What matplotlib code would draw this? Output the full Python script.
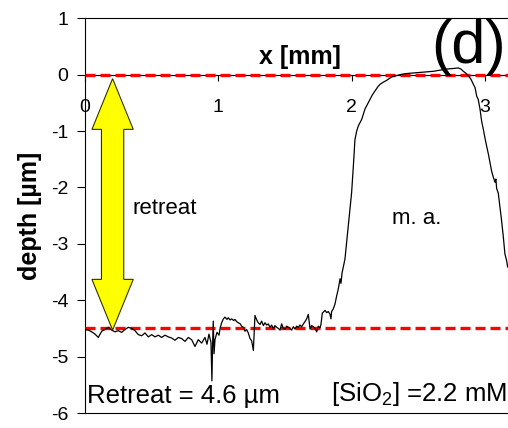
import numpy as np
import matplotlib
matplotlib.use('Agg')
import matplotlib.pyplot as plt
from matplotlib.patches import Polygon

plt.rcParams['font.family'] = ['Liberation Sans', 'DejaVu Sans']
plt.rcParams['mathtext.default'] = 'regular'
plt.rcParams['axes.unicode_minus'] = False

# profilometer trace across the exposed surface
pos_mm = [0.000, 0.025, 0.050, 0.075, 0.100, 0.125, 0.150, 0.175, 0.200, 0.225,
          0.250, 0.275, 0.300, 0.325, 0.350, 0.375, 0.400, 0.425, 0.450, 0.475,
          0.500, 0.525, 0.550, 0.575, 0.600, 0.625, 0.650, 0.675, 0.700, 0.725,
          0.750, 0.775, 0.800, 0.825, 0.850, 0.875, 0.900, 0.915, 0.930, 0.945,
          0.952, 0.957, 0.962, 0.968, 0.975, 0.990, 1.005, 1.015, 1.025, 1.038,
          1.050, 1.065, 1.075, 1.088, 1.100, 1.115, 1.125, 1.138, 1.150, 1.165,
          1.175, 1.188, 1.200, 1.212, 1.225, 1.238, 1.250, 1.263, 1.270, 1.275,
          1.288, 1.300, 1.313, 1.325, 1.338, 1.350, 1.363, 1.375, 1.388, 1.400,
          1.413, 1.425, 1.438, 1.450, 1.463, 1.475, 1.488, 1.500, 1.513, 1.525,
          1.538, 1.550, 1.563, 1.575, 1.588, 1.600, 1.613, 1.625, 1.638, 1.650,
          1.663, 1.675, 1.688, 1.700, 1.713, 1.725, 1.738, 1.750, 1.763, 1.770,
          1.780, 1.800, 1.813, 1.825, 1.838, 1.845, 1.850, 1.863, 1.875, 1.888,
          1.900, 1.913, 1.920, 1.928, 1.950, 1.975, 2.000, 2.013, 2.025, 2.038,
          2.050, 2.063, 2.076, 2.100, 2.120, 2.138, 2.155, 2.175, 2.195, 2.213,
          2.240, 2.263, 2.300, 2.363, 2.410, 2.463, 2.513, 2.563, 2.613, 2.663,
          2.713, 2.763, 2.800, 2.820, 2.838, 2.860, 2.876, 2.895, 2.913, 2.926,
          2.938, 2.950, 2.963, 2.975, 2.988, 3.000, 3.013, 3.026, 3.038, 3.050,
          3.063, 3.076, 3.082, 3.088, 3.100, 3.113, 3.125, 3.138, 3.150, 3.163,
          3.170]
depth_um = [-4.52, -4.53, -4.56, -4.60, -4.66, -4.55, -4.52, -4.48, -4.53, -4.56,
            -4.54, -4.57, -4.52, -4.48, -4.50, -4.54, -4.61, -4.63, -4.58, -4.65,
            -4.61, -4.65, -4.62, -4.66, -4.62, -4.65, -4.67, -4.71, -4.66, -4.68,
            -4.73, -4.66, -4.70, -4.82, -4.70, -4.76, -4.66, -4.78, -4.60, -4.75,
            -5.43, -4.80, -4.37, -4.95, -4.70, -4.57, -4.62, -4.48, -4.40, -4.33,
            -4.30, -4.34, -4.31, -4.35, -4.33, -4.36, -4.34, -4.38, -4.40, -4.42,
            -4.46, -4.48, -4.55, -4.52, -4.58, -4.68, -4.72, -4.89, -4.55, -4.27,
            -4.35, -4.40, -4.43, -4.37, -4.45, -4.40, -4.44, -4.42, -4.48, -4.44,
            -4.51, -4.45, -4.48, -4.50, -4.53, -4.42, -4.50, -4.51, -4.46, -4.48,
            -4.50, -4.53, -4.47, -4.51, -4.46, -4.48, -4.44, -4.47, -4.42, -4.38,
            -4.33, -4.25, -4.51, -4.45, -4.47, -4.50, -4.56, -4.46, -4.49, -4.43,
            -4.23, -4.18, -4.22, -4.20, -4.25, -4.33, -4.20, -4.15, -4.07, -3.92,
            -3.80, -3.62, -3.70, -3.52, -3.27, -2.68, -2.09, -1.62, -1.15, -1.00,
            -0.91, -0.85, -0.79, -0.61, -0.52, -0.44, -0.36, -0.29, -0.22, -0.17,
            -0.13, -0.10, -0.04, 0.00, 0.02, 0.03, 0.04, 0.05, 0.06, 0.08,
            0.10, 0.11, 0.12, 0.10, 0.06, 0.02, -0.02, -0.08, -0.17, -0.23,
            -0.38, -0.44, -0.61, -0.82, -0.97, -1.12, -1.27, -1.41, -1.56, -1.71,
            -1.82, -1.91, -1.85, -2.02, -2.10, -2.35, -2.59, -2.88, -3.18, -3.30,
            -3.41]

surface_level = 0.0
floor_level = -4.5
arrow_top = -0.07
arrow_bottom = -4.53

x_ticks = [0, 1, 2, 3]
y_ticks = [1, 0, -1, -2, -3, -4, -5, -6]

fig = plt.figure(figsize=(5.08, 4.28), dpi=100)
ax = fig.add_axes([85 / 508, 15 / 428, 423 / 508, 394.7 / 428])

ax.plot(pos_mm, depth_um, color='black', lw=0.9, zorder=4)

# reference levels: original surface and bottom of the retreat
for lvl in (surface_level, floor_level):
    ax.axhline(lvl, color='red', lw=2.4, ls=(0, (3, 1.5)), zorder=3)

# double-headed yellow arrow showing the retreat
cx, hw, sw, hl = 0.207, 0.31, 0.167, 0.9
verts = [(cx, arrow_top), (cx + hw / 2, arrow_top - hl), (cx + sw / 2, arrow_top - hl),
         (cx + sw / 2, arrow_bottom + hl), (cx + hw / 2, arrow_bottom + hl),
         (cx, arrow_bottom), (cx - hw / 2, arrow_bottom + hl),
         (cx - sw / 2, arrow_bottom + hl), (cx - sw / 2, arrow_top - hl),
         (cx - hw / 2, arrow_top - hl)]
ax.add_patch(Polygon(verts, closed=True, facecolor='#FFFF00', edgecolor='#333300',
                     lw=0.8, zorder=5))

ax.set_xlim(0, 3.173)
ax.set_ylim(-6, 1)
ax.set_xticks(x_ticks)
ax.set_yticks(y_ticks)

# x axis runs through depth 0, frame closed at top and bottom
ax.spines['bottom'].set_position(('data', 0))
ax.spines['right'].set_visible(False)
for s in ('bottom', 'left', 'top'):
    ax.spines[s].set_linewidth(0.8)
ax.axhline(-6, color='black', lw=0.8, clip_on=False, zorder=2)

ax.tick_params(axis='x', direction='out', length=4.5, width=0.8, pad=13, labelsize=14)
ax.tick_params(axis='y', direction='out', length=5.8, width=0.8, pad=6, labelsize=14)

ax.set_xlabel('x [mm]', fontsize=18, fontweight='bold')
ax.xaxis.set_label_coords(0.508, 0.903)
ax.xaxis.label.set_va('center')
ax.set_ylabel('depth [µm]', fontsize=18, fontweight='bold')
ax.yaxis.set_label_coords(-0.13, 0.5)
ax.yaxis.label.set_va('center')

ax.text(0.36, -2.47, 'retreat', fontsize=16, ha='left', va='baseline')
ax.text(2.30, -2.65, 'm. a.', fontsize=16, ha='left', va='baseline')
ax.text(0.015, -5.83, 'Retreat = 4.6 µm', fontsize=18.5, ha='left', va='baseline')
ax.text(3.168, -5.79, '[SiO$_2$] =2.2 mM', fontsize=18.5, ha='right', va='baseline')
ax.text(3.16, 0.21, '(d)', fontsize=44, ha='right', va='baseline')

fig.savefig('out.png', dpi=100)
